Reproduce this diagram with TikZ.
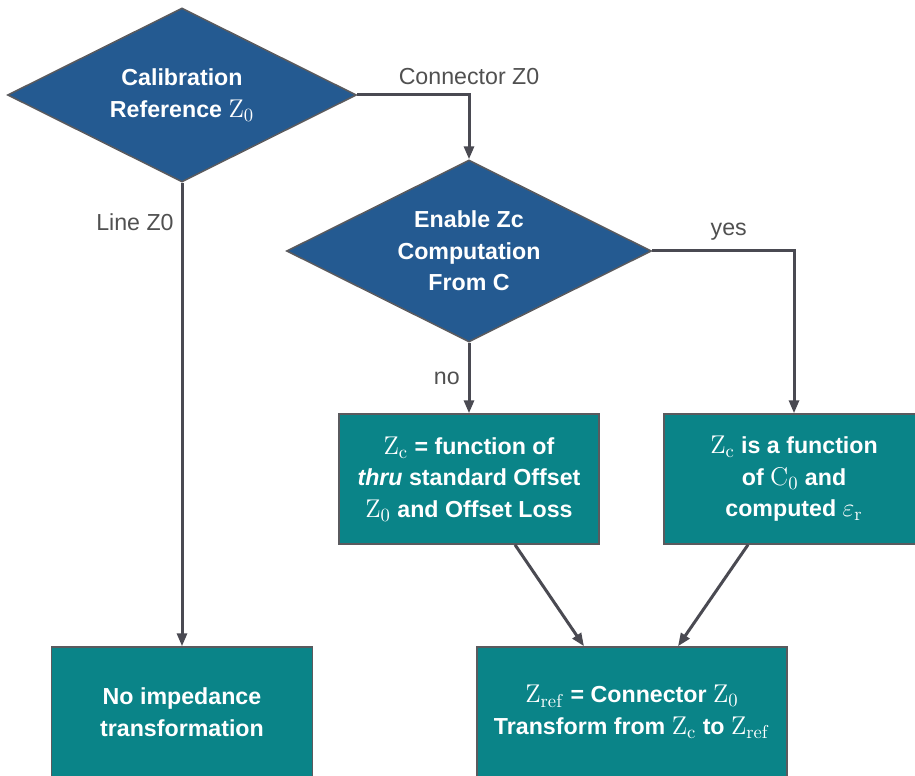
\RequirePackage{fix-cm}
\documentclass[tikz,border=0pt]{standalone}
\usepackage[no-math]{fontspec}
\setmainfont{Liberation Sans}
\usetikzlibrary{shapes.geometric,arrows.meta}
\DeclareMathSizes{13.2}{14.6}{10.6}{8}
\definecolor{decblue}{HTML}{245A91}
\definecolor{boxteal}{HTML}{0A8488}
\definecolor{edgegray}{HTML}{5A5A5E}
\definecolor{linegray}{HTML}{4A4A52}
\definecolor{labelgray}{HTML}{505050}
\newcommand{\bodyfont}{\fontsize{13.2}{18}\selectfont}
\begin{document}
\begin{tikzpicture}[x=0.02cm,y=-0.02cm,
  decision/.style={diamond,aspect=2,draw=edgegray,line width=0.03cm,fill=decblue,text=white,inner sep=0pt,align=center,font=\bfseries\bodyfont},
  action/.style={rectangle,draw=edgegray,line width=0.03cm,fill=boxteal,text=white,inner sep=0pt,align=center,minimum height=2.6cm,font=\bfseries\bodyfont},
  flow/.style={draw=linegray,line width=0.06cm,-{Triangle[length=0.26cm,width=0.2cm]}},
  tag/.style={text=labelgray,font=\fontsize{13.2}{15}\selectfont}]
\useasboundingbox (0,0) rectangle (915,776);
% decisions
\node[decision,minimum width=6.98cm,minimum height=3.48cm] (calref) at (182,95) {Calibration\\Reference $\mathrm{Z}_0$};
\node[decision,minimum width=7.3cm,minimum height=3.64cm] (enable) at (469,251) {Enable Zc\\Computation\\From C};
% actions
\node[action,minimum width=5.2cm] (zcfn) at (469,479) {$\mathrm{Z}_\mathrm{c}$ = function of\\\textit{thru} standard Offset\\$\mathrm{Z}_0$ and Offset Loss};
\node[action,minimum width=5.2cm] (zcC0) at (794,479) {$\mathrm{Z}_\mathrm{c}$ is a function\\of $\mathrm{C}_0$ and\\computed $\varepsilon_\mathrm{r}$};
\node[action,minimum width=5.22cm] (noimp) at (182,712) {No impedance\\transformation};
\node[action,minimum width=6.2cm] (zref) at (632,712) {$\mathrm{Z}_\mathrm{ref}$ = Connector $\mathrm{Z}_0$\\Transform from $\mathrm{Z}_\mathrm{c}$ to $\mathrm{Z}_\mathrm{ref}$};
% connectors
\draw[flow] (calref.east) -| (enable.north) node[tag,pos=0.5,above=0.06cm] {Connector Z0};
\draw[flow] (calref.south) -- (noimp.north) node[tag,pos=0.086,left=0.02cm] {Line Z0};
\draw[flow] (enable.east) -| (zcC0.north) node[tag,pos=0.27,above=0.06cm] {yes};
\draw[flow] (enable.south) -- (zcfn.north) node[tag,pos=0.5,left=0.04cm] {no};
\draw[flow] ([xshift=0.92cm]zcfn.south) -- ([xshift=-0.96cm]zref.north);
\draw[flow] ([xshift=-0.92cm]zcC0.south) -- ([xshift=0.92cm]zref.north);
\end{tikzpicture}
\end{document}
